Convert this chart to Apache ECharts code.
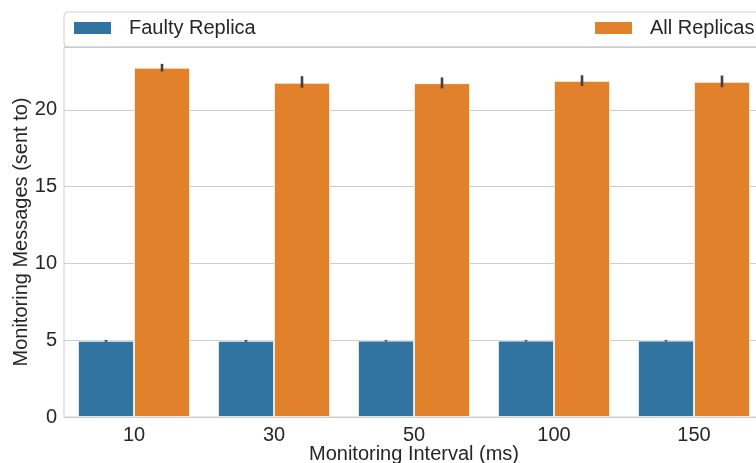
<!DOCTYPE html>
<html>
<head>
<meta charset="utf-8">
<script src="https://cdn.jsdelivr.net/npm/echarts@6/dist/echarts.min.js"></script>
<style>
html,body{margin:0;padding:0;background:#fff;}
#chart{width:756px;height:463px;}
</style>
</head>
<body>
<div id="chart"></div>
<script>
const categories = ['10', '30', '50', '100', '150'];
const seriesNames = ['Faulty Replica', 'All Replicas'];
const faultyValues = [4.96, 4.96, 4.97, 4.97, 4.97];
const faultyLow = [4.9, 4.9, 4.92, 4.92, 4.92];
const faultyHigh = [5.02, 5.02, 5.02, 5.02, 5.02];
const allValues = [22.75, 21.77, 21.74, 21.89, 21.83];
const allLow = [22.5, 21.45, 21.4, 21.56, 21.48];
const allHigh = [23.0, 22.2, 22.12, 22.26, 22.24];
const yTicks = [0, 5, 10, 15, 20];

const FONT = '"Liberation Sans", Arial, sans-serif';
const TEXT = '#262626';
const chart = echarts.init(document.getElementById('chart'));

function errSeries(low, high, seriesIndexOffset) {
  return {
    type: 'custom',
    z: 10,
    silent: true,
    data: categories.map((c, i) => [i, low[i], high[i]]),
    encode: { x: 0, y: [1, 2] },
    renderItem: function (params, api) {
      const i = api.value(0);
      const lo = api.coord([i, api.value(1)]);
      const hi = api.coord([i, api.value(2)]);
      const band = api.size([1, 0])[0];
      const barW = band * 0.4;
      const x = lo[0] + (seriesIndexOffset === 0 ? -barW / 2 : barW / 2);
      return {
        type: 'line',
        shape: { x1: x, y1: lo[1], x2: x, y2: hi[1] },
        style: { stroke: '#424242', lineWidth: 2.6 }
      };
    }
  };
}

const option = {
  backgroundColor: '#ffffff',
  animation: false,
  textStyle: { fontFamily: FONT },
  graphic: [{
    type: 'rect',
    z: -1,
    shape: { x: 64, y: 12, width: 720, height: 35, r: 4 },
    style: { fill: '#ffffff', stroke: '#d0d0d0', lineWidth: 1 }
  }],
  legend: [
    {
      data: [seriesNames[0]],
      left: 72, top: 18, padding: 0,
      itemWidth: 39, itemHeight: 14, icon: 'rect',
      textStyle: { fontSize: 20, color: TEXT, fontFamily: FONT, padding: [0, 0, 0, 12] }
    },
    {
      data: [seriesNames[1]],
      left: 593, top: 18, padding: 0,
      itemWidth: 39, itemHeight: 14, icon: 'rect',
      textStyle: { fontSize: 20, color: TEXT, fontFamily: FONT, padding: [0, 0, 0, 12] }
    }
  ],
  grid: {
    left: 64, top: 47, width: 700, bottom: 46,
    containLabel: false,
    outerBoundsMode: 'none',
    show: true, borderColor: '#cccccc', borderWidth: 1
  },
  xAxis: {
    type: 'category',
    data: categories,
    axisLine: { show: false },
    axisTick: { show: false },
    axisLabel: { fontSize: 20, color: TEXT, margin: 8, fontFamily: FONT },
    name: 'Monitoring Interval (ms)',
    nameLocation: 'middle',
    nameGap: 27,
    nameMoveOverlap: false,
    nameTextStyle: { fontSize: 20, color: TEXT, fontFamily: FONT }
  },
  yAxis: {
    type: 'value',
    min: 0, max: 24.1, interval: 5,
    axisLine: { show: false },
    axisTick: { show: false },
    splitLine: { lineStyle: { color: '#cccccc', width: 1 } },
    axisLabel: {
      fontSize: 20, color: TEXT, margin: 7, fontFamily: FONT,
      formatter: v => (yTicks.indexOf(v) >= 0 ? String(v) : '')
    },
    name: 'Monitoring Messages (sent to)',
    nameLocation: 'middle',
    nameGap: 33,
    nameMoveOverlap: false,
    nameTextStyle: { fontSize: 20, color: TEXT, fontFamily: FONT }
  },
  series: [
    {
      name: seriesNames[0], type: 'bar', data: faultyValues,
      barGap: '0%', barCategoryGap: '20%',
      itemStyle: { color: '#3274a1', borderColor: '#ffffff', borderWidth: 0.8 }
    },
    {
      name: seriesNames[1], type: 'bar', data: allValues,
      barGap: '0%', barCategoryGap: '20%',
      itemStyle: { color: '#e1812c', borderColor: '#ffffff', borderWidth: 0.8 }
    },
    errSeries(faultyLow, faultyHigh, 0),
    errSeries(allLow, allHigh, 1)
  ]
};
chart.setOption(option);
</script>
</body>
</html>
